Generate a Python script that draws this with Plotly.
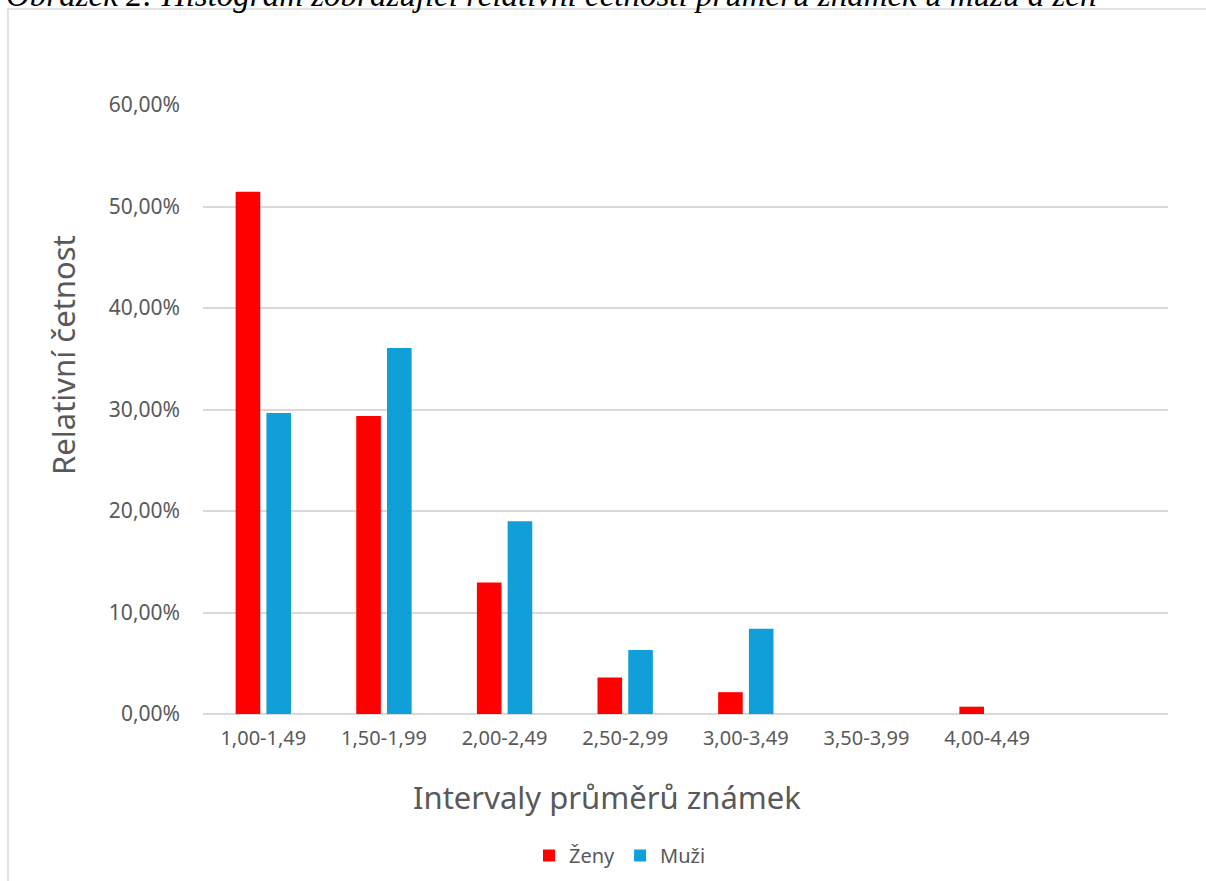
import plotly.graph_objects as go

# Intervaly průměrů známek a relativní četnosti (v procentech)
intervaly = ["1,00-1,49", "1,50-1,99", "2,00-2,49", "2,50-2,99",
             "3,00-3,49", "3,50-3,99", "4,00-4,49", ""]
zeny = [51.45, 29.35, 12.95, 3.6, 2.15, 0.0, 0.72, 0.0]
muzi = [29.65, 36.05, 19.0, 6.3, 8.4, 0.0, 0.0, 0.0]
y_ticks = [0, 10, 20, 30, 40, 50, 60]
y_tick_labels = ["0,00%", "10,00%", "20,00%", "30,00%", "40,00%", "50,00%", "60,00%"]

W, H = 1206, 881
L, R, T, B = 203, 38, 105, 167
plot_w = W - L - R
plot_h = H - T - B

SANS = "Noto Sans, Open Sans, sans-serif"
GREY = "#595959"


def px_x(px):
    return (px - L) / plot_w


def px_y(py):
    return (H - B - py) / plot_h


x_pos = list(range(len(intervaly)))

fig = go.Figure()
fig.add_trace(go.Bar(name="Ženy", x=x_pos, y=zeny, marker=dict(color="#ff0000",
                     line=dict(width=0))))
fig.add_trace(go.Bar(name="Muži", x=x_pos, y=muzi, marker=dict(color="#109fd8",
                     line=dict(width=0))))

fig.update_layout(
    width=W, height=H,
    margin=dict(l=L, r=R, t=T, b=B, autoexpand=False),
    paper_bgcolor="white", plot_bgcolor="white",
    barmode="group", bargap=0.49, bargroupgap=0.2,
    showlegend=True,
    legend=dict(orientation="h", x=px_x(529), y=px_y(836), xanchor="left", yanchor="top",
                font=dict(family=SANS, size=20, color=GREY),
                itemwidth=30, traceorder="normal"),
    xaxis=dict(range=[-0.5, len(intervaly) - 0.5], tickmode="array", tickvals=x_pos,
               ticktext=intervaly, tickfont=dict(family=SANS, size=20, color=GREY),
               showgrid=False, showline=False,
               zeroline=False, ticks="", ticklabelstandoff=10, automargin=False),
    yaxis=dict(range=[0, 60], tickmode="array", tickvals=y_ticks, ticktext=y_tick_labels,
               tickfont=dict(family=SANS, size=21, color=GREY),
               showgrid=True, gridcolor="#d9d9d9", gridwidth=1.5,
               zeroline=True, zerolinecolor="#d9d9d9", zerolinewidth=1.5,
               showline=False, ticks="", ticklabelstandoff=22, automargin=False),
)

# Popisky os
fig.add_annotation(text="Relativní četnost", xref="paper", yref="paper",
                   x=px_x(63), y=px_y(355), textangle=-90, showarrow=False,
                   xanchor="center", yanchor="middle",
                   font=dict(family=SANS, size=31, color=GREY))
fig.add_annotation(text="Intervaly průměrů známek", xref="paper", yref="paper",
                   x=px_x(607), y=px_y(797), showarrow=False,
                   xanchor="center", yanchor="middle",
                   font=dict(family=SANS, size=31, color=GREY))

# Rámeček grafu
fig.add_shape(type="rect", xref="paper", yref="paper",
              x0=px_x(8), y0=px_y(H + 50), x1=px_x(W + 50), y1=px_y(9),
              line=dict(color="#d9d9d9", width=1.5), fillcolor="rgba(0,0,0,0)", layer="below")

# Popisek obrázku
fig.add_annotation(text="<i>Obrázek 2: Histogram zobrazující relativní četnosti průměrů známek u mužů a žen</i>",
                   xref="paper", yref="paper", x=px_x(4), y=px_y(-5), xanchor="left",
                   yanchor="middle", showarrow=False,
                   font=dict(family="Liberation Serif, serif", size=33, color="#000000"))

fig.write_html("out.html")
